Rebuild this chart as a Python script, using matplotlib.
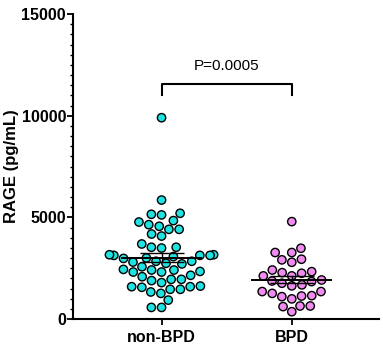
import numpy as np
import pandas as pd
import matplotlib
matplotlib.use("Agg")
import matplotlib.pyplot as plt
import seaborn as sns

# values (pg/mL)
groups = ["non-BPD", "BPD"]
non_bpd = [9900, 5850, 5200, 5120, 5150, 4770, 4840, 4640, 4560, 4410, 4410,
           4180, 4080, 3530, 3530, 3690, 3490, 3130, 3130, 2980, 3160, 3070,
           3160, 3000, 3130, 2840, 2840, 2740, 2710, 2800, 2570, 2410, 2440,
           2410, 2310, 2340, 2150, 2310, 1950, 1950, 1890, 1790, 2080, 1590,
           1460, 1460, 1330, 1260, 1560, 1590, 1620, 930, 570, 570]
bpd = [4790, 3480, 3270, 3270, 2790, 2910, 2940, 2410, 2280, 2120, 2120,
       2330, 2250, 1840, 1920, 1870, 1760, 1680, 1630, 1350, 1350, 1260,
       990, 1130, 1100, 1150, 610, 640, 640, 360]
colors = ["#1FE3E3", "#F08CF0"]
p_text = "P=0.0005"

df = pd.DataFrame({
    "group": [groups[0]] * len(non_bpd) + [groups[1]] * len(bpd),
    "value": non_bpd + bpd,
})

plt.rcParams["font.family"] = ["Liberation Sans", "DejaVu Sans"]

fig = plt.figure(figsize=(3.83, 3.46), dpi=100)
ax = fig.add_axes([0.1906, 0.078, 0.799, 0.8815])
ax.set_xlim(-0.68, 1.67)
ax.set_ylim(0, 15000)

sns.swarmplot(data=df, x="group", y="value", hue="group", palette=colors,
              size=6.0, edgecolor="black", linewidth=1.0, legend=False,
              ax=ax, zorder=3)

# mean with SEM
for i, vals in enumerate([non_bpd, bpd]):
    v = np.array(vals)
    m = v.mean()
    sem = v.std(ddof=1) / np.sqrt(len(v))
    ax.hlines(m, i - 0.31, i + 0.31, color="black", lw=1.4, zorder=4)
    ax.errorbar(i, m, yerr=sem, color="black", lw=1.0, capsize=16,
                capthick=1.0, zorder=4)

# significance bracket
ax.plot([0, 0, 1, 1], [11030, 11560, 11560, 11030], color="black", lw=1.5,
        clip_on=False)
ax.text(0.5, 12100, p_text, ha="center", va="bottom", fontsize=11)

ax.set_xlim(-0.68, 1.67)
ax.set_ylim(0, 15000)
ax.set_yticks([0, 5000, 10000, 15000])
ax.set_yticks(np.arange(0, 15001, 500), minor=True)
ax.set_xlabel("")
ax.set_ylabel("RAGE (pg/mL)", fontsize=12, fontweight="bold", labelpad=2)

for s in ["top", "right"]:
    ax.spines[s].set_visible(False)
for s in ["left", "bottom"]:
    ax.spines[s].set_linewidth(1.5)

ax.tick_params(axis="y", which="major", length=4, width=1.3, pad=1,
               labelsize=11.5)
ax.tick_params(axis="y", which="minor", length=2.5, width=1.0)
ax.tick_params(axis="x", length=4, width=1.3, pad=4, labelsize=11.5)
for lab in ax.get_xticklabels() + ax.get_yticklabels():
    lab.set_fontweight("bold")

fig.savefig("out.png", dpi=100)
